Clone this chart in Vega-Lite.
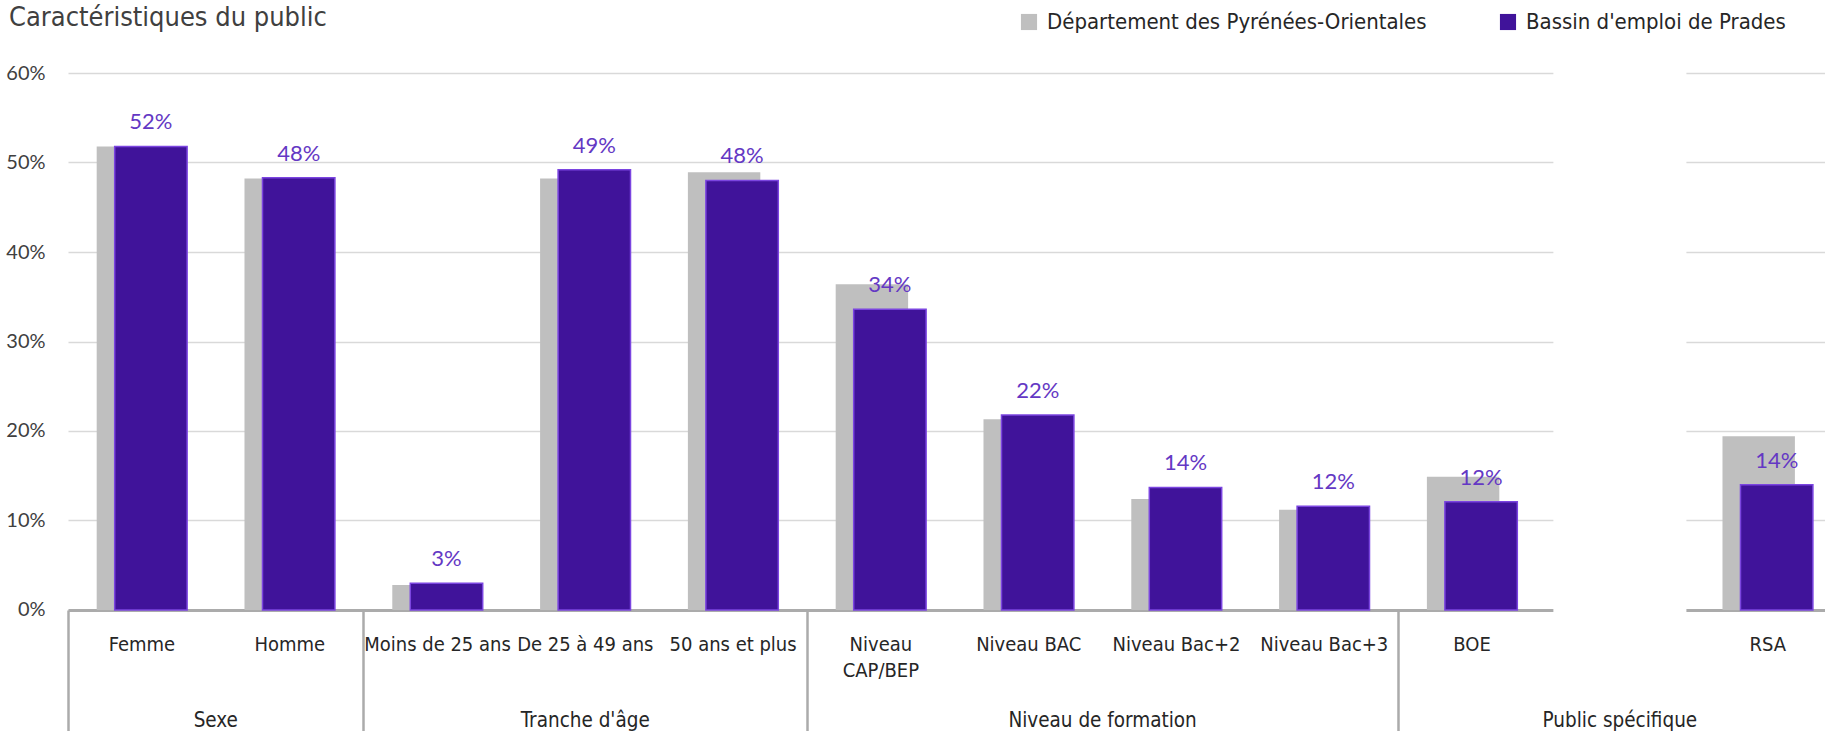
{
  "$schema": "https://vega.github.io/schema/vega-lite/v6.json",
  "autosize": "none",
  "padding": {"left": 68, "top": 73, "right": 0, "bottom": 121},
  "width": {"step": 147.8},
  "height": 537,
  "background": "white",
  "title": {"text": "Caractéristiques du public", "anchor": "start", "frame": "group", "dx": -59, "font": "Liberation Sans Narrow, DejaVu Sans Condensed, sans-serif", "fontSize": 27, "fontWeight": "normal", "color": "#404040", "baseline": "alphabetic", "offset": -42},
  "data": {"values": [
    {"cat": "Femme", "groupe": "Sexe", "dept": 0.518, "bassin": 0.518},
    {"cat": "Homme", "groupe": "Sexe", "dept": 0.482, "bassin": 0.483},
    {"cat": "Moins de 25 ans", "groupe": "Tranche d'âge", "dept": 0.028, "bassin": 0.030},
    {"cat": "De 25 à 49 ans", "groupe": "Tranche d'âge", "dept": 0.482, "bassin": 0.492},
    {"cat": "50 ans et plus", "groupe": "Tranche d'âge", "dept": 0.489, "bassin": 0.480},
    {"cat": "Niveau CAP/BEP", "groupe": "Niveau de formation", "dept": 0.364, "bassin": 0.336},
    {"cat": "Niveau BAC", "groupe": "Niveau de formation", "dept": 0.213, "bassin": 0.218},
    {"cat": "Niveau Bac+2", "groupe": "Niveau de formation", "dept": 0.124, "bassin": 0.137},
    {"cat": "Niveau Bac+3", "groupe": "Niveau de formation", "dept": 0.112, "bassin": 0.116},
    {"cat": "BOE", "groupe": "Public spécifique", "dept": 0.149, "bassin": 0.121},
    {"cat": " ", "groupe": "Public spécifique", "dept": null, "bassin": null},
    {"cat": "RSA", "groupe": "Public spécifique", "dept": 0.194, "bassin": 0.140}
  ]},
  "resolve": {"axis": {"x": "independent"}},
  "layer": [
    {
      "mark": {"type": "bar", "width": {"band": 0.49}, "xOffset": -9},
      "encoding": {
        "x": {"field": "cat", "type": "nominal", "sort": null,
          "scale": {"domain": ["Femme","Homme","Moins de 25 ans","De 25 à 49 ans","50 ans et plus","Niveau CAP/BEP","Niveau BAC","Niveau Bac+2","Niveau Bac+3","BOE"," ","RSA"], "paddingInner": 0, "paddingOuter": 0},
          "axis": {"orient": "bottom", "title": null, "domain": true, "domainColor": "#ABABAB", "domainWidth": 3, "ticks": false, "grid": false, "labelAngle": 0, "labelFont": "Liberation Sans Narrow, DejaVu Sans Condensed, sans-serif", "labelFontSize": 20, "labelColor": "#262626", "labelPadding": 25, "labelBaseline": "top", "labelLineHeight": 26, "labelOverlap": false, "labelBound": false, "labelLimit": 0,
            "labelExpr": "datum.value == 'Niveau CAP/BEP' ? ['Niveau', 'CAP/BEP'] : datum.value"}},
        "y": {"field": "dept", "type": "quantitative", "title": null, "scale": {"domain": [0, 0.6], "nice": false}},
        "color": {"datum": "Département des Pyrénées-Orientales", "type": "nominal",
          "scale": {"domain": ["Département des Pyrénées-Orientales", "Bassin d'emploi de Prades"], "range": ["#BFBFBF", "#40139A"]},
          "legend": {"title": null, "orient": "none", "legendX": 950, "legendY": -62, "direction": "horizontal", "columns": 2, "columnPadding": 70, "padding": 0, "symbolType": "square", "symbolSize": 260, "symbolStrokeWidth": 0, "labelFont": "Liberation Sans Narrow, DejaVu Sans Condensed, sans-serif", "labelFontSize": 22, "labelColor": "#262626", "labelOffset": 7, "labelLimit": 0}}
      }
    },
    {
      "mark": {"type": "bar", "width": {"band": 0.49}, "xOffset": 9, "stroke": "#7B45E0", "strokeWidth": 1.5},
      "encoding": {
        "x": {"field": "cat", "type": "nominal", "sort": null,
          "scale": {"domain": ["Femme","Homme","Moins de 25 ans","De 25 à 49 ans","50 ans et plus","Niveau CAP/BEP","Niveau BAC","Niveau Bac+2","Niveau Bac+3","BOE"," ","RSA"], "paddingInner": 0, "paddingOuter": 0},
          "axis": {"orient": "bottom", "title": null, "domain": false, "ticks": false, "grid": false, "values": ["Homme", "Niveau Bac+2"], "labelOffset": -73.9, "labelAngle": 0, "labelFont": "Liberation Sans Narrow, DejaVu Sans Condensed, sans-serif", "labelFontSize": 20.5, "labelColor": "#262626", "labelPadding": 101, "labelBaseline": "top", "labelOverlap": false, "labelBound": false, "labelLimit": 0,
            "labelExpr": "datum.value == 'Homme' ? 'Sexe' : 'Niveau de formation'"}},
        "y": {"field": "bassin", "type": "quantitative", "title": null, "scale": {"domain": [0, 0.6], "nice": false}},
        "color": {"datum": "Bassin d'emploi de Prades", "type": "nominal"}
      }
    },
    {
      "transform": [{"filter": "datum.bassin != null"}],
      "mark": {"type": "text", "xOffset": 9, "dy": -17, "baseline": "alphabetic", "align": "center", "font": "Lato", "fontSize": 22, "color": "#6438C4"},
      "encoding": {
        "x": {"field": "cat", "type": "nominal", "sort": null,
          "scale": {"domain": ["Femme","Homme","Moins de 25 ans","De 25 à 49 ans","50 ans et plus","Niveau CAP/BEP","Niveau BAC","Niveau Bac+2","Niveau Bac+3","BOE"," ","RSA"], "paddingInner": 0, "paddingOuter": 0},
          "axis": {"orient": "bottom", "title": null, "domain": false, "ticks": false, "grid": false, "values": ["De 25 à 49 ans", " "], "labelAngle": 0, "labelFont": "Liberation Sans Narrow, DejaVu Sans Condensed, sans-serif", "labelFontSize": 20.5, "labelColor": "#262626", "labelPadding": 101, "labelBaseline": "top", "labelOverlap": false, "labelBound": false, "labelLimit": 0,
            "labelExpr": "datum.value == ' ' ? 'Public spécifique' : 'Tranche d\\'âge'"}},
        "y": {"field": "bassin", "type": "quantitative", "title": null, "scale": {"domain": [0, 0.6], "nice": false}},
        "text": {"field": "bassin", "type": "quantitative", "format": ".0%"}
      }
    },
    {
      "transform": [{"filter": "datum.cat == ' '"}],
      "mark": {"type": "bar", "width": {"band": 0.9}, "color": "white"},
      "encoding": {
        "x": {"field": "cat", "type": "nominal", "sort": null,
          "scale": {"domain": ["Femme","Homme","Moins de 25 ans","De 25 à 49 ans","50 ans et plus","Niveau CAP/BEP","Niveau BAC","Niveau Bac+2","Niveau Bac+3","BOE"," ","RSA"], "paddingInner": 0, "paddingOuter": 0},
          "axis": {"orient": "bottom", "title": null, "domain": false, "labels": false, "grid": false, "ticks": true, "bandPosition": 0, "values": ["Femme", "Moins de 25 ans", "Niveau CAP/BEP", "BOE"], "tickSize": 125, "tickColor": "#ABABAB", "tickWidth": 2.5}},
        "y": {"datum": 0.603, "type": "quantitative", "scale": {"domain": [0, 0.6], "nice": false}},
        "y2": {"datum": -0.004}
      }
    }
  ],
  "config": {
    "view": {"stroke": null},
    "axisY": {"domain": false, "ticks": false, "grid": true, "gridColor": "#D9D9D9", "gridWidth": 1.5, "tickCount": 6, "format": ".0%", "labelFont": "Lato", "labelFontSize": 20, "labelColor": "#404040", "labelPadding": 23}
  }
}
